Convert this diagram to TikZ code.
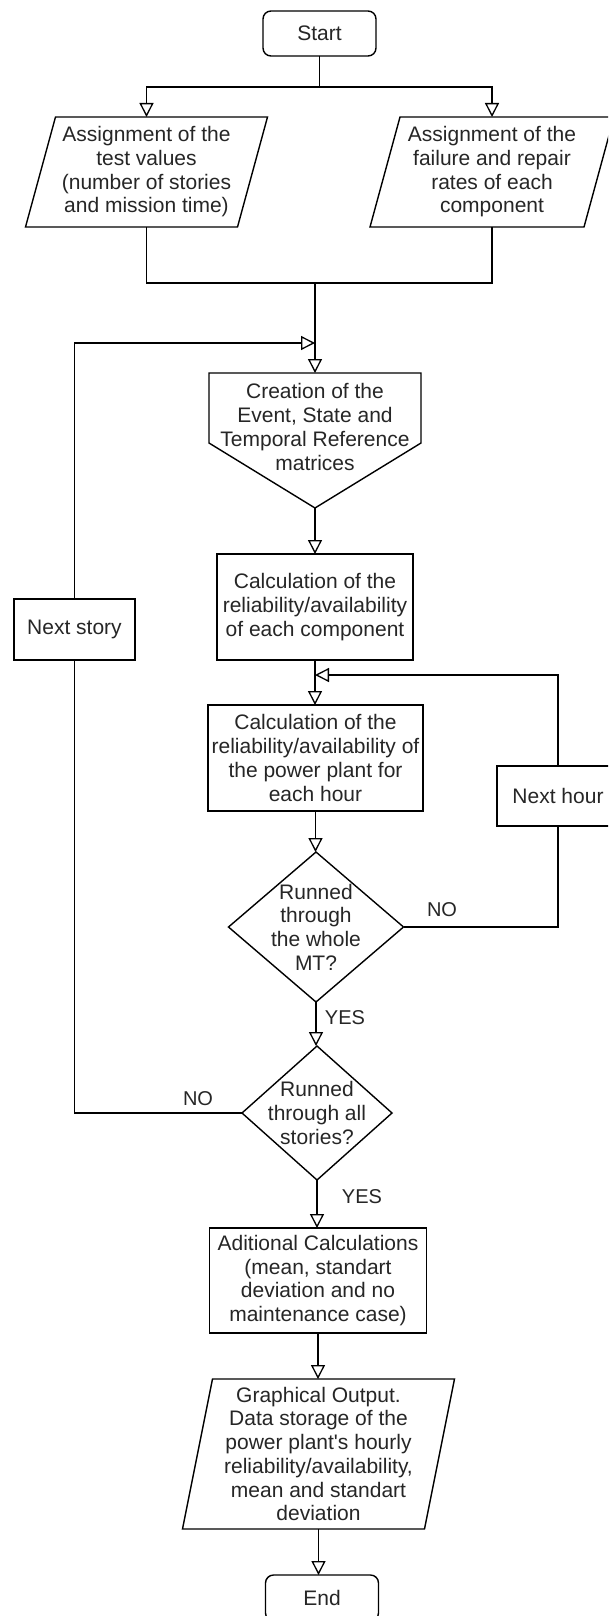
\documentclass[tikz,border=0pt]{standalone}
\usepackage{fontspec}
\setmainfont{Liberation Sans}
\usetikzlibrary{arrows.meta,calc}

\begin{document}
\begin{tikzpicture}[
  x=1pt, y=-1pt,
  txt/.style={font=\fontsize{21}{23.7}\selectfont, align=center, inner sep=0pt, outer sep=0pt, text=black!85},
  lbl/.style={font=\fontsize{20}{24}\selectfont, inner sep=0pt, text=black!85},
  box/.style={txt, draw, rectangle, line width=1.4pt},
  term/.style={box, rounded corners=8pt},
  frame/.style={txt, rectangle},
  outline/.style={draw, line width=1.4pt, line join=miter},
  link/.style={line width=1.4pt},
  arr/.style={link, -{Triangle[open, length=14pt, width=14pt, line width=1.3pt]}},
]
\fill[white] (0,0) rectangle (608,1616);
\useasboundingbox (0,0) rectangle (608,1616);
\clip (0,0) rectangle (608,1616);

% ---- nodes ----
\node[term, minimum width=113pt, minimum height=45pt] (start) at (319.5,33.5) {Start};

\node[frame, minimum width=212pt, minimum height=110pt] (inA) at (146.5,172)
  {Assignment of the\\test values\\(number of stories\\and mission time)};
\node[frame, minimum width=214pt, minimum height=110pt] (inB) at (492,172)
  {Assignment of the\\failure and repair\\rates of each\\component};

\node[frame, minimum width=212pt, minimum height=108pt] (create) at (315,427)
  {Creation of the\\Event, State and\\Temporal Reference\\matrices};

\node[box, minimum width=196pt, minimum height=106pt] (comp) at (315,607)
  {Calculation of the\\reliability/availability\\of each component};
\node[box, minimum width=121pt, minimum height=61pt] (story) at (74.5,629.5) {Next story};

\node[box, minimum width=215pt, minimum height=106pt] (plant) at (315.5,758)
  {Calculation of the\\reliability/availability of\\the power plant for\\each hour};
\node[box, minimum width=122pt, minimum height=60pt] (hour) at (558,796) {Next hour};

\node[frame, minimum width=175pt, minimum height=150pt] (mt) at (316,927)
  {Runned\\through\\the whole\\MT?};
\node[frame, minimum width=150pt, minimum height=134pt] (all) at (317,1113)
  {Runned\\through all\\stories?};

\node[box, minimum width=217pt, minimum height=105pt] (extra) at (318,1280.5)
  {Aditional Calculations\\(mean, standart\\deviation and no\\maintenance case)};

\node[frame, minimum width=242pt, minimum height=150pt] (out) at (318.5,1454)
  {Graphical Output.\\Data storage of the\\power plant\textquotesingle s hourly\\reliability/availability,\\mean and standart\\deviation};

\node[term, minimum width=113pt, minimum height=46pt] (end) at (322,1598) {End};

% ---- shape outlines ----
\draw[outline] ($(inA.north west)+(15,0)$) -- ($(inA.north east)+(15,0)$)
  -- ($(inA.south east)+(-15,0)$) -- ($(inA.south west)+(-15,0)$) -- cycle;
\draw[outline] ($(inB.north west)+(15,0)$) -- ($(inB.north east)+(15,0)$)
  -- ($(inB.south east)+(-15,0)$) -- ($(inB.south west)+(-15,0)$) -- cycle;
\draw[outline] ($(out.north west)+(15,0)$) -- ($(out.north east)+(15,0)$)
  -- ($(out.south east)+(-15,0)$) -- ($(out.south west)+(-15,0)$) -- cycle;

\coordinate (tip) at ($(create.north)+(0,135)$);
\draw[outline] (create.north west) -- (create.north east) -- ($(create.north east)+(0,70)$)
  -- (tip) -- ($(create.north west)+(0,70)$) -- cycle;

\draw[outline] (mt.north) -- (mt.east) -- (mt.south) -- (mt.west) -- cycle;
\draw[outline] (all.north) -- (all.east) -- (all.south) -- (all.west) -- cycle;

% ---- connectors ----
\draw[arr] (start.south) -- ++(0,31) -| (inA.north);
\draw[arr] (start.south) -- ++(0,31) -| (inB.north);

\coordinate (merge) at (create.north |- 0,283);
\coordinate (join) at (create.north |- 0,343);
\draw[link] (inA.south) |- (merge) -| (inB.south);
\draw[arr] (merge) -- (create.north);
\draw[arr] (story.north) |- (join);

\draw[arr] (tip) -- (tip |- comp.north);

\coordinate (loop) at ($(comp.south)+(0,15)$);
\draw[arr] (comp.south) -- (comp.south |- plant.north);
\draw[arr] (hour.north) |- (loop);

\draw[arr] (plant.south) -- (plant.south |- mt.north);
\draw[link] (mt.east) -| (hour.south);
\node[lbl] (no1) at (442,910) {NO};

\draw[arr] (mt.south) -- (mt.south |- all.north);
\node[lbl] (yes1) at (345,1018) {YES};

\draw[link] (all.west) -| (story.south);
\node[lbl] (no2) at (198,1099) {NO};

\draw[arr] (all.south) -- (all.south |- extra.north);
\node[lbl] (yes2) at (362,1197) {YES};

\draw[arr] (extra.south) -- (extra.south |- out.north);
\draw[arr] (out.south) -- (out.south |- end.north);
\end{tikzpicture}
\end{document}
